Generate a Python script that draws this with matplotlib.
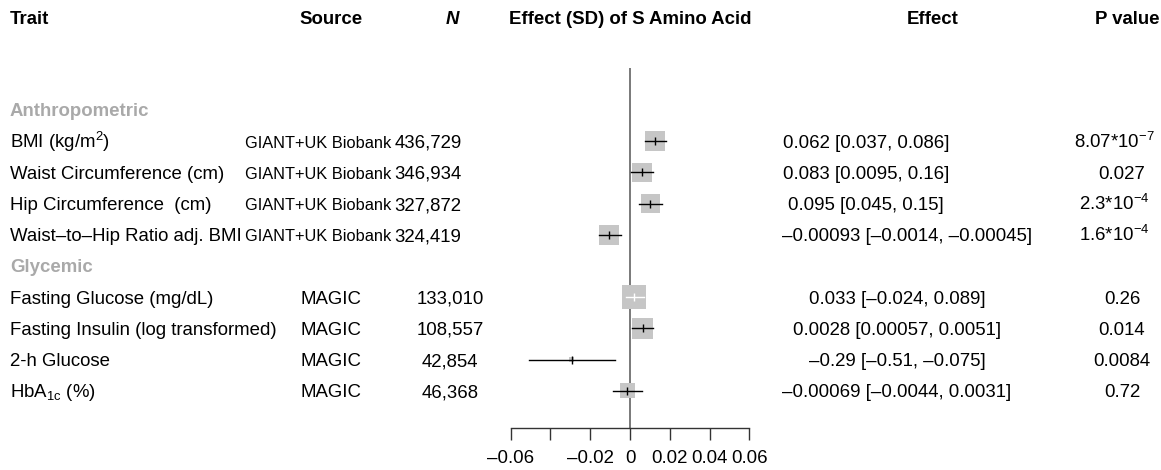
import matplotlib
matplotlib.use("Agg")
import matplotlib.pyplot as plt
from matplotlib.patches import Rectangle

plt.rcParams['font.family'] = ['Liberation Sans', 'DejaVu Sans']
plt.rcParams['mathtext.fontset'] = 'custom'
plt.rcParams['mathtext.rm'] = 'Liberation Sans'
plt.rcParams['mathtext.it'] = 'Liberation Sans:italic'
plt.rcParams['mathtext.bf'] = 'Liberation Sans:bold'

# ---- data ----
groups = ["Anthropometric", "Glycemic"]
traits = ["BMI (kg/m$^2$)", "Waist Circumference (cm)", "Hip Circumference  (cm)",
          "Waist\u2013to\u2013Hip Ratio adj. BMI",
          "Fasting Glucose (mg/dL)", "Fasting Insulin (log transformed)", "2-h Glucose",
          "HbA$_{\\mathrm{1c}}$ (%)"]
trait_group = [0, 0, 0, 0, 1, 1, 1, 1]
sources = ["GIANT+UK Biobank"] * 4 + ["MAGIC"] * 4
n_labels = ["436,729", "346,934", "327,872", "324,419",
            "133,010", "108,557", "42,854", "46,368"]
effect_labels = ["0.062 [0.037, 0.086]", "0.083 [0.0095, 0.16]", "0.095 [0.045, 0.15]",
                 "\u20130.00093 [\u20130.0014, \u20130.00045]",
                 "0.033 [\u20130.024, 0.089]", "0.0028 [0.00057, 0.0051]",
                 "\u20130.29 [\u20130.51, \u20130.075]", "\u20130.00069 [\u20130.0044, 0.0031]"]
p_labels = ["8.07*10$^{-7}$", "0.027", "2.3*10$^{-4}$", "1.6*10$^{-4}$",
            "0.26", "0.014", "0.0084", "0.72"]

# standardised effect shown in the forest panel
est = [0.0126, 0.0060, 0.0102, -0.0104, 0.0022, 0.0064, -0.0293, -0.0014]
lo = [0.0075, 0.0005, 0.0047, -0.0156, -0.0020, 0.0012, -0.0507, -0.0084]
hi = [0.0180, 0.0116, 0.0159, -0.0047, 0.0070, 0.0116, -0.0074, 0.0059]

xticks = [-0.06, -0.04, -0.02, 0, 0.02, 0.04, 0.06]
xtick_labels = ["\u20130.06", "", "\u20130.02", "0", "0.02", "0.04", "0.06"]

# ---- layout (pixels) ----
W, H = 1161, 470
ROW0, STEP = 110.0, 31.2
FS = 13.4


def row_of(py):
    return (py - ROW0) / STEP


src_x = [318, 331]
src_fs = [11.8, FS]   # the long source name is set tighter in the original
n_x = [428, 450]
eff_x = [866, 866, 866, 907, 897, 897, 897, 897]
BOX_C = 1.08e-4

fig = plt.figure(figsize=(W / 100, H / 100), dpi=100)

# text layer
tax = fig.add_axes([0, 0, 1, 1])
tax.set_xlim(0, W)
tax.set_ylim(row_of(H), row_of(0))
tax.axis("off")

base = 6.5 / STEP  # baseline offset below row centre
hdr = row_of(18)
tax.text(10, hdr + base, "Trait", fontsize=FS, fontweight="bold", ha="left", va="baseline")
tax.text(331, hdr + base, "Source", fontsize=FS, fontweight="bold", ha="center", va="baseline")
tax.text(452, hdr + base, "N", fontsize=FS, fontweight="bold", style="italic", ha="center", va="baseline")
tax.text(630, hdr + base, "Effect (SD) of S Amino Acid", fontsize=FS, fontweight="bold",
         ha="center", va="baseline")
tax.text(933, hdr + base, "Effect", fontsize=FS, fontweight="bold", ha="center", va="baseline")
tax.text(1127, hdr + base, "P value", fontsize=FS, fontweight="bold", ha="center", va="baseline")

rows = []
r = 0
for g, name in enumerate(groups):
    tax.text(10, r + base, name, fontsize=FS, fontweight="bold", color="#a9a9a9",
             ha="left", va="baseline")
    r += 1
    for i, tg in enumerate(trait_group):
        if tg == g:
            rows.append(r)
            r += 1

for i, rr in enumerate(rows):
    g = trait_group[i]
    y = rr + base
    tax.text(10, y, traits[i], fontsize=FS, ha="left", va="baseline")
    tax.text(src_x[g], y, sources[i], fontsize=src_fs[g], ha="center", va="baseline")
    tax.text(n_x[g], y, n_labels[i], fontsize=FS, ha="center", va="baseline")
    tax.text(eff_x[i], y, effect_labels[i], fontsize=FS, ha="center", va="baseline")
    px = 1114 if "$" in p_labels[i] else 1122
    tax.text(px, y, p_labels[i], fontsize=FS, ha="center", va="baseline")

# forest panel
ax_l, ax_r, ax_t, ax_b = 510.7, 749.3, 68, 428
fax = fig.add_axes([ax_l / W, (H - ax_b) / H, (ax_r - ax_l) / W, (ax_b - ax_t) / H])
fax.set_xlim(-0.06, 0.06)
fax.set_ylim(row_of(ax_b), row_of(ax_t))
fax.patch.set_alpha(0)
for s in ["left", "right", "top"]:
    fax.spines[s].set_visible(False)
fax.spines["bottom"].set_color("#333333")
fax.spines["bottom"].set_linewidth(1.0)
fax.set_yticks([])
fax.set_xticks(xticks)
fax.set_xticklabels(xtick_labels, fontsize=FS)
fax.tick_params(axis="x", length=8.6, width=1.0, color="#333333", pad=7)
fax.axvline(0, color="#555555", lw=1.1, zorder=1)

px_per_x = (ax_r - ax_l) / 0.12
for i, rr in enumerate(rows):
    side = BOX_C / (hi[i] - lo[i])
    side_rows = side * px_per_x / STEP
    fax.add_patch(Rectangle((est[i] - side / 2, rr - side_rows / 2), side, side_rows,
                            facecolor="#c6c6c6", edgecolor="none", zorder=2))
    inside = lo[i] > est[i] - side / 2 and hi[i] < est[i] + side / 2
    c = "white" if inside else "black"
    fax.plot([lo[i], hi[i]], [rr, rr], color=c, lw=1.0, zorder=3)
    fax.plot([est[i]], [rr], marker="|", markersize=6, mew=1.0, color=c, zorder=4)

fig.savefig("out.png", dpi=100)
